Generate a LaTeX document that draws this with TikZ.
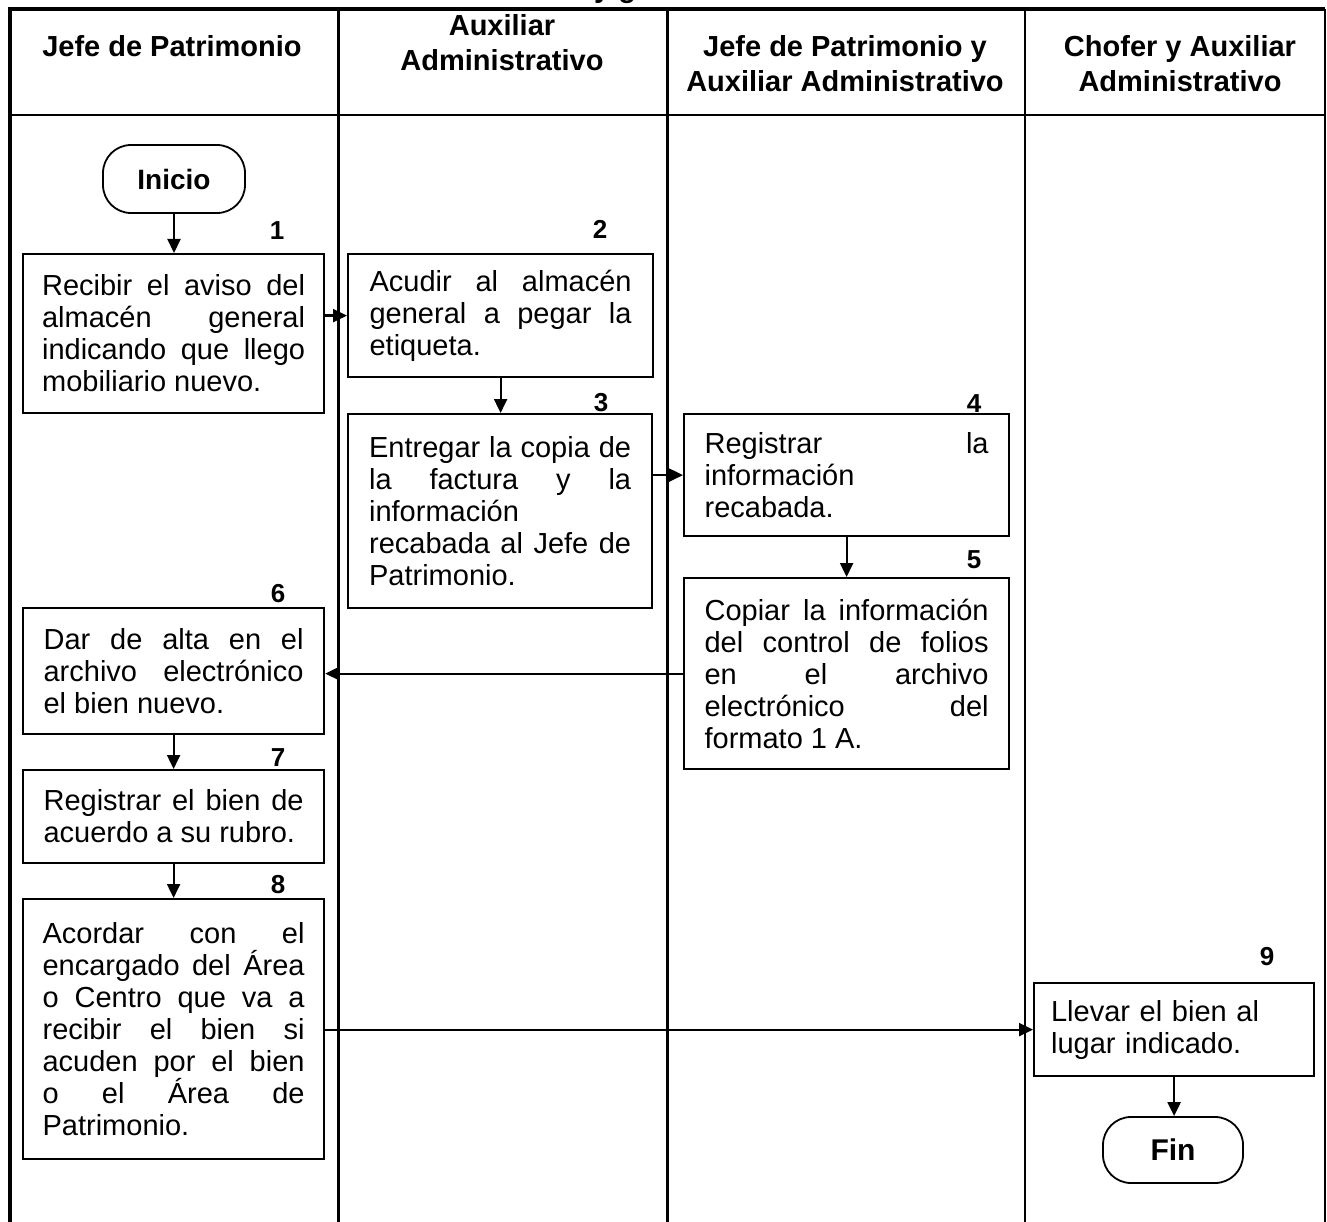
\documentclass[tikz,border=0pt]{standalone}
\usepackage{fontspec}
\setmainfont{Liberation Sans}
\usetikzlibrary{arrows.meta}
\tolerance=10000
\hbadness=10000
\hyphenpenalty=10000
\exhyphenpenalty=10000
\begin{document}
\begin{tikzpicture}[x=1pt,y=-1pt,
  box/.style={draw, line width=2.2pt, anchor=north west, inner xsep=0pt, inner ysep=0pt,
    align=justify, font=\fontsize{29}{32}\selectfont},
  term/.style={draw, line width=1.8pt, rounded corners=28pt, inner sep=0pt},
  num/.style={font=\bfseries\fontsize{26}{28}\selectfont, inner sep=0pt},
  hdr/.style={align=center, font=\bfseries\fontsize{29}{35}\selectfont, inner sep=0pt},
  arr/.style={line width=2.2pt, -{Triangle[length=14pt,width=13pt]}},
  lane/.style={line width=2.2pt},
]
\useasboundingbox (0,0) rectangle (1327,1222);

% partially visible title
\begin{scope}
\clip (0,0) rectangle (1327,1222);
\node[anchor=base west, inner sep=0pt, font=\bfseries\fontsize{29}{32}\selectfont] (title) at (594,-2) {y g};
\end{scope}

% frame and lanes
\draw[line width=4pt, line join=miter] (9.5,1222) -- (9.5,9.5) -- (1325,9.5);
\draw[line width=2.5pt] (1325,9.5) -- (1325,1222);
\draw[lane] (9.5,115) -- (1325,115);
\draw[lane] (338.5,9.5) -- (338.5,1222);
\draw[lane] (667.5,9.5) -- (667.5,1222);
\draw[lane] (1025,9.5) -- (1025,1222);

% headers
\node[hdr] (h1) at (172,46) {Jefe de Patrimonio};
\node[hdr] (h2) at (502,43) {Auxiliar\\Administrativo};
\node[hdr] (h3) at (845,63.5) {Jefe de Patrimonio y\\Auxiliar Administrativo};
\node[hdr] (h4) at (1180,63.5) {Chofer y Auxiliar\\Administrativo};

% terminators
\node[term, minimum width=142pt, minimum height=68pt, font=\bfseries\fontsize{28}{30}\selectfont] (ini) at (174,179) {Inicio};
\node[term, minimum width=140pt, minimum height=66pt, font=\bfseries\fontsize{30}{34}\selectfont] (fin) at (1173,1150) {Fin};

% process boxes
\node[box, text width=263pt, minimum width=301pt, minimum height=159pt] (b1) at (22,253)
  {Recibir el aviso del\linebreak almacén general\linebreak indicando que llego\linebreak mobiliario nuevo.};
\node[box, text width=262pt, minimum width=305pt, minimum height=123pt] (b2) at (347,253)
  {Acudir al almacén\linebreak general a pegar la\linebreak etiqueta.};
\node[box, text width=262pt, minimum width=304pt, minimum height=194pt] (b3) at (347,413)
  {Entregar la copia de\linebreak la factura y la\linebreak información\linebreak recabada al Jefe de\linebreak Patrimonio.};
\node[box, text width=284pt, minimum width=325pt, minimum height=122pt] (b4) at (683,413)
  {Registrar la\linebreak información\linebreak recabada.};
\node[box, text width=284pt, minimum width=325pt, minimum height=191pt] (b5) at (683,577)
  {Copiar la información\linebreak del control de folios\linebreak en el archivo\linebreak electrónico del\linebreak formato 1 A.};
\node[box, text width=260pt, minimum width=301pt, minimum height=126pt] (b6) at (22,607)
  {Dar de alta en el\linebreak archivo electrónico\linebreak el bien nuevo.};
\node[box, text width=260pt, minimum width=301pt, minimum height=93pt] (b7) at (22,769)
  {Registrar el bien de\linebreak acuerdo a su rubro.};
\node[box, text width=262pt, minimum width=301pt, minimum height=260pt] (b8) at (22,898)
  {Acordar con el\linebreak encargado del Área\linebreak o Centro que va a\linebreak recibir el bien si\linebreak acuden por el bien\linebreak o el Área de\linebreak Patrimonio.};
\node[box, align=left, inner xsep=17pt, text width=246pt, minimum width=280pt, minimum height=93pt] (b9) at (1033,982)
  {Llevar el bien al\\lugar indicado.};

% step numbers
\node[num] (n1) at (277,231) {1};
\node[num] (n2) at (600,229) {2};
\node[num] (n3) at (601,403) {3};
\node[num] (n4) at (974,404) {4};
\node[num] (n5) at (974,560) {5};
\node[num] (n6) at (278,594) {6};
\node[num] (n7) at (278,758) {7};
\node[num] (n8) at (278,885) {8};
\node[num] (n9) at (1267,957) {9};

% connectors
\draw[arr] (ini.south) -- (ini.south |- b1.north);
\draw[arr] (b1.east |- b2.west) -- (b2.west);
\draw[arr] (b2.south) -- (b2.south |- b3.north);
\draw[arr] (b3.east |- b4.west) -- (b4.west);
\draw[arr] (b4.south) -- (b4.south |- b5.north);
\draw[arr] (b5.west) -- (b6.east |- b5.west);
\draw[arr] (b6.south) -- (b6.south |- b7.north);
\draw[arr] (b7.south) -- (b7.south |- b8.north);
\draw[arr] (b8.east |- b9.west) -- (b9.west);
\draw[arr] (b9.south) -- (b9.south |- fin.north);
\end{tikzpicture}
\end{document}
